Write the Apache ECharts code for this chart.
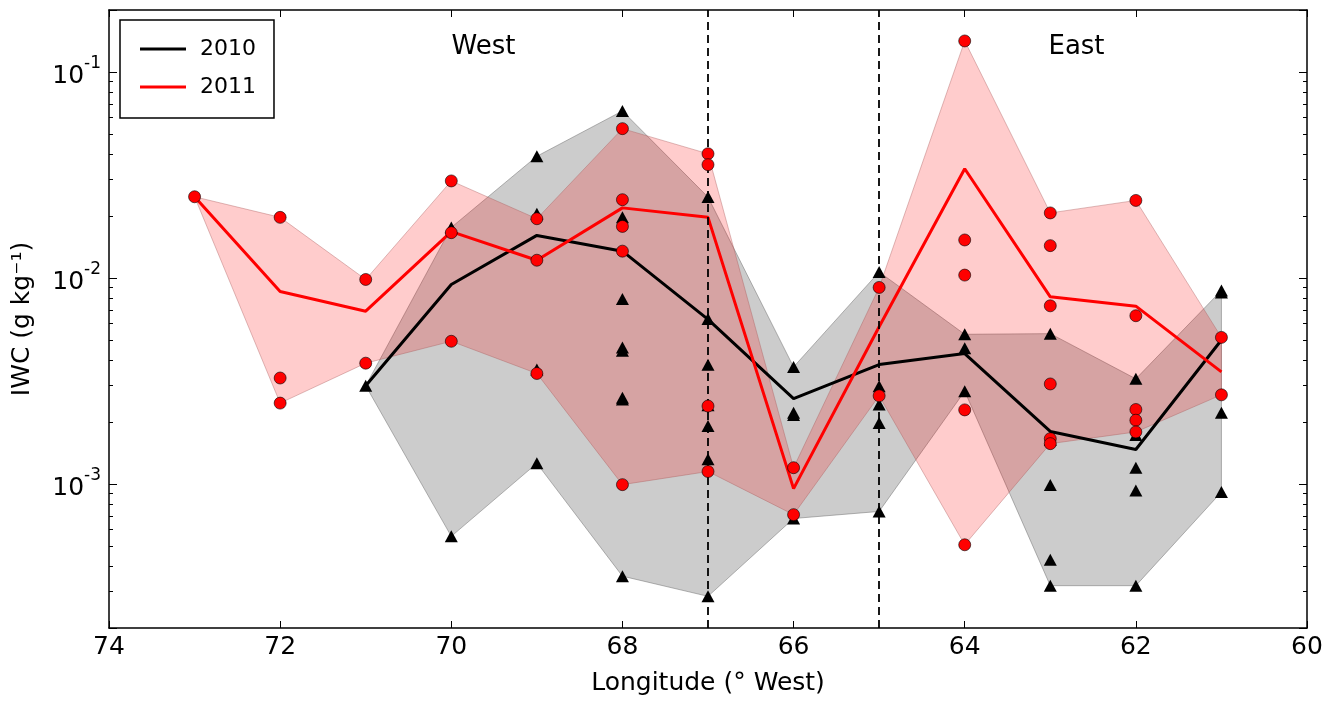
<!DOCTYPE html>
<html><head><meta charset="utf-8">
<script src="https://cdn.jsdelivr.net/npm/echarts@6/dist/echarts.min.js"></script>
<style>html,body{margin:0;padding:0;background:#fff}#c{width:1341px;height:706px}</style>
</head><body><div id="c"></div>
<script>
const FONT = 'DejaVu Sans';

// ---- 2011 (red) ----
const lon2011  = [73, 72, 71, 70, 69, 68, 67, 66, 65, 64, 63, 62, 61];
const mean2011 = [0.0248, 0.0086, 0.0069, 0.0168, 0.0122, 0.0219, 0.0197, 0.00095, 0.0058, 0.0339, 0.0081, 0.0073, 0.0035];
const hi2011   = [0.0248, 0.0197, 0.00984, 0.0296, 0.0194, 0.0531, 0.0401, 0.0012, 0.0090, 0.1415, 0.0207, 0.0238, 0.00515];
const lo2011   = [0.0248, 0.00247, 0.00386, 0.00493, 0.00344, 0.000993, 0.00115, 0.00071, 0.00268, 0.000507, 0.00157, 0.00179, 0.00271];
const pts2011 = [
  [73, 0.0248],
  [72, 0.0197], [72, 0.00327], [72, 0.00247],
  [71, 0.00984], [71, 0.00386],
  [70, 0.0296], [70, 0.0166], [70, 0.00493],
  [69, 0.0194], [69, 0.0122], [69, 0.00344],
  [68, 0.0531], [68, 0.0240], [68, 0.0178], [68, 0.0135], [68, 0.000993],
  [67, 0.0401], [67, 0.0355], [67, 0.00239], [67, 0.00115],
  [66, 0.0012], [66, 0.00071],
  [65, 0.0090], [65, 0.00268],
  [64, 0.1415], [64, 0.0153], [64, 0.01033], [64, 0.00229], [64, 0.000507],
  [63, 0.0207], [63, 0.01436], [63, 0.00733], [63, 0.00306], [63, 0.00166], [63, 0.00157],
  [62, 0.0238], [62, 0.00656], [62, 0.0023], [62, 0.00204], [62, 0.00179],
  [61, 0.00515], [61, 0.00271]
];

// ---- 2010 (black) ----
const lon2010  = [71, 70, 69, 68, 67, 66, 65, 64, 63, 62, 61];
const mean2010 = [0.0030, 0.0093, 0.0161, 0.0135, 0.0063, 0.0026, 0.0038, 0.0043, 0.0018, 0.00147, 0.0050];
const hi2010   = [0.0030, 0.0176, 0.039, 0.0647, 0.0247, 0.0037, 0.0107, 0.00533, 0.00537, 0.00324, 0.0087];
const lo2010   = [0.0030, 0.000557, 0.00126, 0.000357, 0.000285, 0.00068, 0.000736, 0.00282, 0.000321, 0.000321, 0.000914];
const pts2010 = [
  [71, 0.0030],
  [70, 0.0176], [70, 0.000557],
  [69, 0.039], [69, 0.0205], [69, 0.0036], [69, 0.00126],
  [68, 0.0647], [68, 0.0197], [68, 0.0079], [68, 0.0046], [68, 0.00443], [68, 0.00262], [68, 0.00257], [68, 0.000357],
  [67, 0.0247], [67, 0.00632], [67, 0.00379], [67, 0.00241], [67, 0.00191], [67, 0.00132], [67, 0.000285],
  [66, 0.0037], [66, 0.00222], [66, 0.00216], [66, 0.00068],
  [65, 0.0107], [65, 0.00298], [65, 0.00243], [65, 0.00198], [65, 0.000736],
  [64, 0.00533], [64, 0.00456], [64, 0.00282],
  [63, 0.00537], [63, 0.00164], [63, 0.00099], [63, 0.000429], [63, 0.000321],
  [62, 0.00324], [62, 0.00173], [62, 0.0012], [62, 0.00093], [62, 0.000321],
  [61, 0.0087], [61, 0.0085], [61, 0.00222], [61, 0.000914]
];

const dividers = [67, 65];
const regionNames = ['West', 'East'];
const xRange = [60, 74];
const yRange = [2e-4, 0.2];

function band(name, lons, lo, hi, fill, stroke, z) {
  return {
    type: 'custom', name: name, z: z, silent: true, clip: true,
    data: lons.map((l, i) => [l, lo[i], hi[i]]),
    encode: { x: 0, y: [1, 2] },
    renderItem: function (params, api) {
      if (params.dataIndex !== 0) return null;
      const up = lons.map((l, i) => api.coord([l, hi[i]]));
      const dn = lons.map((l, i) => api.coord([l, lo[i]])).reverse();
      return { type: 'polygon', shape: { points: up.concat(dn) },
               style: { fill: fill, stroke: stroke, lineWidth: 1 } };
    }
  };
}

function yLabel(v) {
  const e = Math.log10(v);
  if (Math.abs(e - Math.round(e)) > 1e-6) return '';
  return '{b|10}{s|' + Math.round(e) + '}';
}

const axisLineStyle = { color: '#000', width: 1.5 };
const tickStyle = { color: '#000', width: 1 };

const chart = echarts.init(document.getElementById('c'), null, { renderer: 'canvas' });
chart.setOption({
  animation: false,
  backgroundColor: '#fff',
  textStyle: { fontFamily: FONT },
  grid: { left: 109, right: 34, top: 10, bottom: 78 },
  legend: {
    data: ['2010', '2011'], orient: 'vertical', left: 120, top: 20,
    icon: 'rect', itemWidth: 46, itemHeight: 3, itemGap: 16,
    padding: [18, 18, 20, 20], borderColor: '#000', borderWidth: 1.5, backgroundColor: '#fff',
    textStyle: { fontFamily: FONT, fontSize: 22, color: '#000', padding: [0, 0, 0, 9] },
    selectedMode: false
  },
  xAxis: [{
    type: 'value', min: xRange[0], max: xRange[1], interval: 2, inverse: true, position: 'bottom',
    name: 'Longitude (° West)', nameLocation: 'middle', nameGap: 43,
    nameTextStyle: { fontFamily: FONT, fontSize: 25, color: '#000' },
    axisLine: { show: true, lineStyle: axisLineStyle },
    axisTick: { show: true, inside: true, length: 7, lineStyle: tickStyle },
    splitLine: { show: false },
    axisLabel: { fontFamily: FONT, fontSize: 25, color: '#000', margin: 7 }
  }, {
    type: 'value', min: xRange[0], max: xRange[1], interval: 2, inverse: true, position: 'top',
    axisLine: { show: true, lineStyle: axisLineStyle },
    axisTick: { show: true, inside: true, length: 7, lineStyle: tickStyle },
    splitLine: { show: false }, axisLabel: { show: false }
  }],
  yAxis: [{
    type: 'log', logBase: 10, min: yRange[0], max: yRange[1], position: 'left',
    name: 'IWC (g kg⁻¹)', nameLocation: 'middle', nameGap: 74, nameRotate: 90,
    nameTextStyle: { fontFamily: FONT, fontSize: 25, color: '#000' },
    axisLine: { show: true, lineStyle: axisLineStyle },
    axisTick: { show: true, inside: true, length: 8, lineStyle: tickStyle },
    minorTick: { show: true, splitNumber: 9, length: 4, lineStyle: tickStyle },
    splitLine: { show: false }, minorSplitLine: { show: false },
    axisLabel: {
      formatter: yLabel, margin: 8, showMinLabel: false, showMaxLabel: false,
      rich: {
        b: { fontFamily: FONT, fontSize: 25, color: '#000', lineHeight: 34, verticalAlign: 'bottom' },
        s: { fontFamily: FONT, fontSize: 17, color: '#000', lineHeight: 17, verticalAlign: 'top' }
      }
    }
  }, {
    type: 'log', logBase: 10, min: yRange[0], max: yRange[1], position: 'right',
    axisLine: { show: true, lineStyle: axisLineStyle },
    axisTick: { show: true, inside: true, length: 8, lineStyle: tickStyle },
    minorTick: { show: true, splitNumber: 9, length: 4, lineStyle: tickStyle },
    splitLine: { show: false }, minorSplitLine: { show: false }, axisLabel: { show: false }
  }],
  graphic: [
    { type: 'text', x: 483.5, y: 47, z: 100, style: { text: regionNames[0], fontFamily: FONT, fontSize: 26, fill: '#000', align: 'center', verticalAlign: 'middle' } },
    { type: 'text', x: 1076.5, y: 47, z: 100, style: { text: regionNames[1], fontFamily: FONT, fontSize: 26, fill: '#000', align: 'center', verticalAlign: 'middle' } }
  ],
  series: [
    band('band2010', lon2010, lo2010, hi2010, 'rgba(128,128,128,0.4)', 'rgba(110,110,110,0.5)', 1),
    band('band2011', lon2011, lo2011, hi2011, 'rgba(255,0,0,0.2)', 'rgba(170,90,90,0.4)', 2),
    {
      type: 'line', name: '2010', z: 3, symbol: 'none',
      data: lon2010.map((l, i) => [l, mean2010[i]]),
      lineStyle: { color: '#000', width: 3 }, itemStyle: { color: '#000' },
      markLine: {
        silent: true, symbol: ['none', 'none'], label: { show: false },
        lineStyle: { color: '#000', width: 1.8, type: [8, 5] },
        data: dividers.map(d => ({ xAxis: d }))
      }
    },
    {
      type: 'line', name: '2011', z: 3, symbol: 'none',
      data: lon2011.map((l, i) => [l, mean2011[i]]),
      lineStyle: { color: '#ff0000', width: 3 }, itemStyle: { color: '#ff0000' }
    },
    {
      type: 'scatter', name: 'pts2010', z: 4, symbol: 'triangle', symbolSize: [13, 12],
      data: pts2010, itemStyle: { color: '#000', opacity: 1 }
    },
    {
      type: 'scatter', name: 'pts2011', z: 5, symbol: 'circle', symbolSize: 12,
      data: pts2011, itemStyle: { color: '#ff0000', borderColor: '#000', borderWidth: 0.6, opacity: 1 }
    }
  ]
});
</script></body></html>
